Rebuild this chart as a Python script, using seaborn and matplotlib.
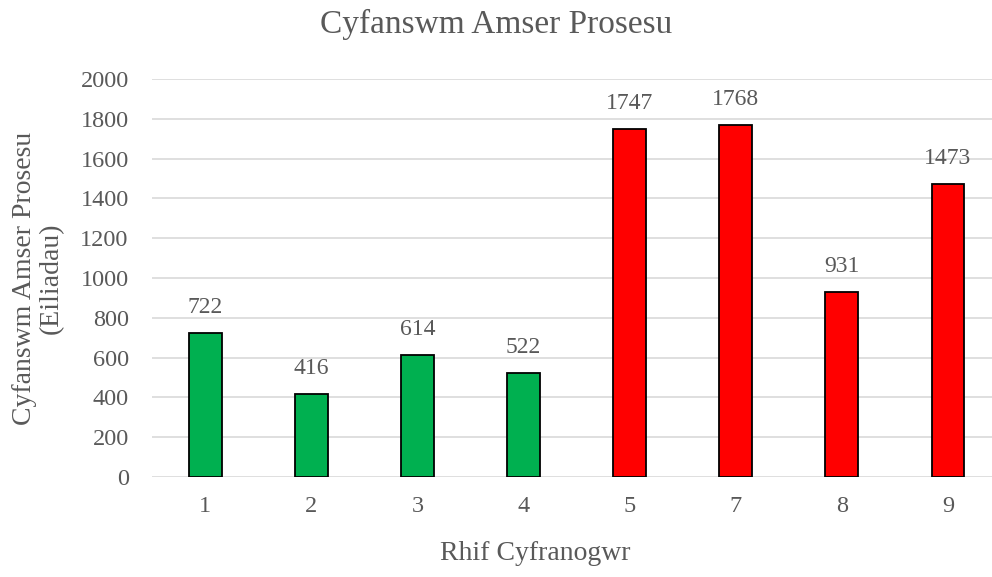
import numpy as np
import pandas as pd
import matplotlib
matplotlib.use('Agg')
import matplotlib.pyplot as plt
import seaborn as sns

# data
participants = ['1', '2', '3', '4', '5', '7', '8', '9']
times = [722, 416, 614, 522, 1747, 1768, 931, 1473]
colours = ['#00B050'] * 4 + ['#FF0000'] * 4

df = pd.DataFrame({'Rhif': participants, 'Amser': times})

sns.set_style('white')
plt.rcParams['font.family'] = ['Liberation Serif', 'DejaVu Serif']
txt = '#595959'

fig = plt.figure(figsize=(9.92, 5.77), dpi=100)
ax = fig.add_axes([0.1535, 0.1733, 0.8465, 0.690])

sns.barplot(data=df, x='Rhif', y='Amser', hue='Rhif', palette=colours,
            legend=False, width=0.31, edgecolor='black', linewidth=1.3,
            saturation=1, ax=ax, zorder=3)

for i, v in enumerate(times):
    ax.text(i, v + 75, str(v), ha='center', va='bottom', fontsize=17, color=txt)

ax.set_ylim(0, 2000)
ax.set_xlim(-0.5, 7.415)
ax.set_yticks(np.arange(0, 2001, 200))
ax.yaxis.grid(True, color='#D9D9D9', linewidth=1.2, zorder=0)
for s in ax.spines.values():
    s.set_visible(False)
ax.tick_params(axis='both', length=0, labelsize=17.5, labelcolor=txt)
ax.tick_params(axis='y', pad=17)
ax.tick_params(axis='x', pad=14)

ax.set_xlabel('Rhif Cyfranogwr', fontsize=20, color=txt, labelpad=18)
ax.xaxis.set_label_coords(0.456, -0.16)
ax.set_ylabel('Cyfanswm Amser Prosesu\n(Eiliadau)', fontsize=20, color=txt,
              labelpad=12, linespacing=1.1)
fig.suptitle('Cyfanswm Amser Prosesu', fontsize=24, color=txt, y=0.985)

fig.savefig('out.png', dpi=100)
